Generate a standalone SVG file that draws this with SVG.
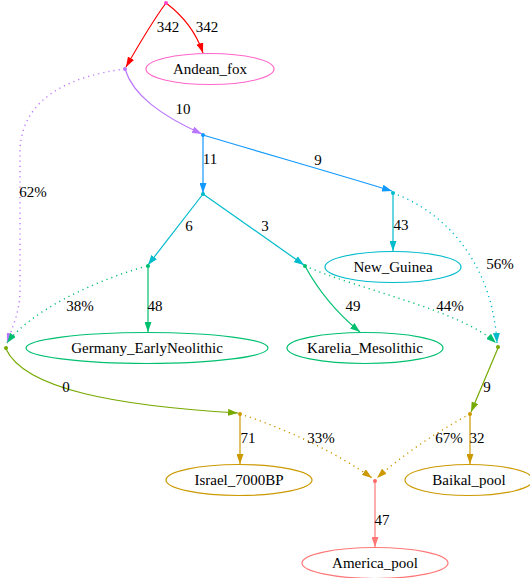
<svg xmlns="http://www.w3.org/2000/svg" width="530" height="578" viewBox="0 0 530 578">
<style>
text{font-family:'Liberation Serif','Times New Roman',Times,serif;font-size:15px;fill:#000;text-anchor:middle}
.e{fill:none;stroke-width:1.2}
.d{stroke-dasharray:1.2 4;stroke-width:1.4}
.n{fill:#fff;stroke-width:1.2}
</style>
<defs>
<marker id="mr" markerUnits="userSpaceOnUse" markerWidth="10" markerHeight="7" refX="10" refY="3.5" orient="auto"><path d="M0,0 L10,3.5 L0,7 z" fill="#ff0000"/></marker>
<marker id="mp" markerUnits="userSpaceOnUse" markerWidth="10" markerHeight="7" refX="10" refY="3.5" orient="auto"><path d="M0,0 L10,3.5 L0,7 z" fill="#bb77ff"/></marker>
<marker id="mb" markerUnits="userSpaceOnUse" markerWidth="10" markerHeight="7" refX="10" refY="3.5" orient="auto"><path d="M0,0 L10,3.5 L0,7 z" fill="#1199ff"/></marker>
<marker id="mc" markerUnits="userSpaceOnUse" markerWidth="10" markerHeight="7" refX="10" refY="3.5" orient="auto"><path d="M0,0 L10,3.5 L0,7 z" fill="#00bbcc"/></marker>
<marker id="mg" markerUnits="userSpaceOnUse" markerWidth="10" markerHeight="7" refX="10" refY="3.5" orient="auto"><path d="M0,0 L10,3.5 L0,7 z" fill="#00c070"/></marker>
<marker id="mo" markerUnits="userSpaceOnUse" markerWidth="10" markerHeight="7" refX="10" refY="3.5" orient="auto"><path d="M0,0 L10,3.5 L0,7 z" fill="#77aa00"/></marker>
<marker id="my" markerUnits="userSpaceOnUse" markerWidth="10" markerHeight="7" refX="10" refY="3.5" orient="auto"><path d="M0,0 L10,3.5 L0,7 z" fill="#cc9900"/></marker>
<marker id="ms" markerUnits="userSpaceOnUse" markerWidth="10" markerHeight="7" refX="10" refY="3.5" orient="auto"><path d="M0,0 L10,3.5 L0,7 z" fill="#ff7777"/></marker>
</defs>
<g id="connectors">
<path class="e" stroke="#ff0000" marker-end="url(#mr)" d="M166,3 C152,22 138,46 126,67"/>
<text x="168" y="32">342</text>
<path class="e" stroke="#ff0000" marker-end="url(#mr)" d="M166,3 C182,15 196,32 203,53"/>
<text x="207" y="32">342</text>
<path class="e" stroke="#bb77ff" marker-end="url(#mp)" d="M125,69 C133,95 160,115 202,134"/>
<text x="183" y="114">10</text>
<path class="e d" stroke="#bb77ff" marker-end="url(#mp)" d="M125,69 C70,76 22,98 20,150 L20,290 C20,312 12,328 7,343"/>
<text x="33" y="197">62%</text>
<path class="e" stroke="#1199ff" marker-end="url(#mb)" d="M203,135 L203,193"/>
<text x="210" y="164">11</text>
<path class="e" stroke="#1199ff" marker-end="url(#mb)" d="M203,135 C270,155 330,172 392,191"/>
<text x="318" y="165">9</text>
<path class="e" stroke="#00bbcc" marker-end="url(#mc)" d="M203,194 L148,265"/>
<text x="189" y="231">6</text>
<path class="e" stroke="#00bbcc" marker-end="url(#mc)" d="M203,194 L304,265"/>
<text x="265" y="231">3</text>
<path class="e" stroke="#00bbcc" marker-end="url(#mc)" d="M393,193 L393,251"/>
<text x="401" y="230">43</text>
<path class="e d" stroke="#00bbcc" marker-end="url(#mc)" d="M393,193 C445,212 492,262 497,343"/>
<text x="500" y="269">56%</text>
<path class="e" stroke="#00c070" marker-end="url(#mg)" d="M148,266 L148,332"/>
<text x="155" y="311">48</text>
<path class="e d" stroke="#00c070" marker-end="url(#mg)" d="M147,266 C90,282 30,312 7,343"/>
<text x="80" y="311">38%</text>
<path class="e" stroke="#00c070" marker-end="url(#mg)" d="M305,266 C318,290 338,314 360,332"/>
<text x="353" y="311">49</text>
<path class="e d" stroke="#00c070" marker-end="url(#mg)" d="M305,266 C360,290 460,310 496,343"/>
<text x="450" y="311">44%</text>
<path class="e" stroke="#77aa00" marker-end="url(#mo)" d="M6,349 C25,390 120,406 238,413"/>
<text x="66" y="392">0</text>
<path class="e" stroke="#77aa00" marker-end="url(#mo)" d="M498,348 L471,412"/>
<text x="487" y="392">9</text>
<path class="e" stroke="#cc9900" marker-end="url(#my)" d="M240,414 L240,464"/>
<text x="248" y="443">71</text>
<path class="e d" stroke="#cc9900" marker-end="url(#my)" d="M240,414 C290,430 340,455 372,478"/>
<text x="321" y="443">33%</text>
<path class="e" stroke="#cc9900" marker-end="url(#my)" d="M470,414 L470,464"/>
<text x="477" y="443">32</text>
<path class="e d" stroke="#cc9900" marker-end="url(#my)" d="M470,414 C440,430 402,455 377,478"/>
<text x="449" y="443">67%</text>
<path class="e" stroke="#ff7777" marker-end="url(#ms)" d="M375,481 L375,547"/>
<text x="382" y="525">47</text>
</g>
<g id="root"><circle cx="166" cy="3" r="2" fill="#ff44cc"/></g>
<g id="p1"><circle cx="125" cy="69" r="2" fill="#bb77ff"/></g>
<g id="p2"><circle cx="203" cy="135" r="2" fill="#1199ff"/></g>
<g id="p3"><circle cx="203" cy="194" r="2" fill="#00bbcc"/></g>
<g id="p4"><circle cx="393" cy="193" r="2" fill="#00bbcc"/></g>
<g id="p5"><circle cx="148" cy="266" r="2" fill="#00c070"/></g>
<g id="p6"><circle cx="305" cy="266" r="2" fill="#00c070"/></g>
<g id="p7"><circle cx="6" cy="348" r="2" fill="#77aa00"/></g>
<g id="p8"><circle cx="498" cy="347" r="2" fill="#77aa00"/></g>
<g id="p9"><circle cx="240" cy="414" r="2" fill="#cc9900"/></g>
<g id="p10"><circle cx="470" cy="414" r="2" fill="#cc9900"/></g>
<g id="p11"><circle cx="375" cy="481" r="2" fill="#ff6666"/></g>
<g id="andean_fox"><ellipse class="n" cx="210" cy="69" rx="64" ry="15.5" stroke="#ff66cc"/><text x="210" y="74">Andean_fox</text></g>
<g id="new_guinea"><ellipse class="n" cx="393" cy="267" rx="68" ry="15.5" stroke="#00bbcc"/><text x="393" y="272">New_Guinea</text></g>
<g id="germany"><ellipse class="n" cx="147" cy="348" rx="121" ry="15.5" stroke="#00c070"/><text x="147" y="353">Germany_EarlyNeolithic</text></g>
<g id="karelia"><ellipse class="n" cx="365" cy="348" rx="78" ry="15.5" stroke="#00c070"/><text x="365" y="353">Karelia_Mesolithic</text></g>
<g id="israel"><ellipse class="n" cx="239" cy="480" rx="73" ry="15.5" stroke="#cc9900"/><text x="239" y="485">Israel_7000BP</text></g>
<g id="baikal"><ellipse class="n" cx="469" cy="480" rx="64" ry="15.5" stroke="#cc9900"/><text x="469" y="485">Baikal_pool</text></g>
<g id="america"><ellipse class="n" cx="375" cy="563" rx="73" ry="15.5" stroke="#ff7777"/><text x="375" y="568">America_pool</text></g>
</svg>
